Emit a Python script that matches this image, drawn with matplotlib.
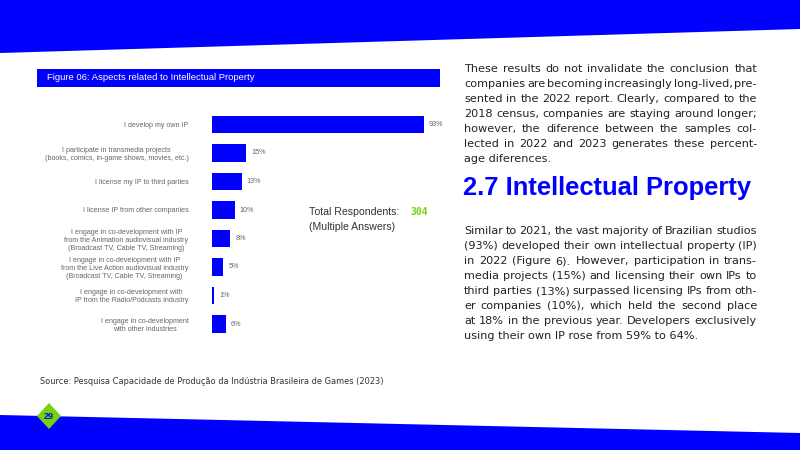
import matplotlib
matplotlib.use("Agg")
import matplotlib.pyplot as plt
from matplotlib.patches import Polygon, Rectangle

# data
categories = [
    "I develop my own IP",
    "I participate in transmedia projects\n(books, comics, in-game shows, movies, etc.)",
    "I license my IP to third parties",
    "I license IP from other companies",
    "I engage in co-development with IP\nfrom the Animation audiovisual industry\n(Broadcast TV, Cable TV, Streaming)",
    "I engage in co-development with IP\nfrom the Live Action audiovisual industry\n(Broadcast TV, Cable TV, Streaming)",
    "I engage in co-development with\nIP from the Radio/Podcasts industry",
    "I engage in co-development\nwith other industries",
]
values = [93, 15, 13, 10, 8, 5, 1, 6]
total_respondents = "304"

title = "Figure 06: Aspects related to Intellectual Property"
source = "Source: Pesquisa Capacidade de Produção da Indústria Brasileira de Games (2023)"
heading = "2.7 Intellectual Property"
page_number = "29"

para1 = [
    "These results do not invalidate the conclusion that",
    "companies are becoming increasingly long-lived, pre-",
    "sented in the 2022 report. Clearly, compared to the",
    "2018 census, companies are staying around longer;",
    "however, the diference between the samples col-",
    "lected in 2022 and 2023 generates these percent-",
    "age diferences.",
]
para2 = [
    "Similar to 2021, the vast majority of Brazilian studios",
    "(93%) developed their own intellectual property (IP)",
    "in 2022 (Figure 6). However, participation in trans-",
    "media projects (15%) and licensing their own IPs to",
    "third parties (13%) surpassed licensing IPs from oth-",
    "er companies (10%), which held the second place",
    "at 18% in the previous year. Developers exclusively",
    "using their own IP rose from 59% to 64%.",
]

BLUE = "#0000ff"
GREEN = "#76d20f"
GRAY = "#666666"
TEXT = "#222222"

plt.rcParams['font.family'] = ['Liberation Sans', 'DejaVu Sans']

fig = plt.figure(figsize=(8, 4.5), dpi=100)

# page layer, units are pixels
page = fig.add_axes([0, 0, 1, 1])
page.set_xlim(0, 800)
page.set_ylim(450, 0)
page.axis('off')

page.add_patch(Polygon([(0, 0), (800, 0), (800, 29), (0, 53)], color=BLUE, lw=0))
page.add_patch(Polygon([(0, 415), (800, 433), (800, 450), (0, 450)], color=BLUE, lw=0))
page.add_patch(Polygon([(49, 403), (61, 416), (49, 429), (37, 416)], color=GREEN, lw=0, zorder=3))
page.text(49, 416.5, page_number, color=BLUE, fontsize=6.5, fontweight='bold',
          ha='center', va='center', zorder=4)

page.add_patch(Rectangle((37, 69), 403, 18, color=BLUE, lw=0))
page.text(47, 78, title, color='white', fontsize=6.8, va='center')

page.text(40, 381, source, color='#333333', fontsize=5.95, va='center',
          family='DejaVu Sans')

page.text(309, 212, "Total Respondents:", color='#333333', fontsize=7.6, va='center')
page.text(410, 212, total_respondents, color=GREEN, fontsize=7, fontweight='bold',
          va='center', family='DejaVu Sans Mono')
page.text(309, 227, "(Multiple Answers)", color='#333333', fontsize=7.6, va='center')

page.text(463, 188, heading, color=BLUE, fontsize=18.4, fontweight='bold', va='center')

renderer = fig.canvas.get_renderer()


def justified(lines, x0, x1, y0, dy, **kw):
    for i, line in enumerate(lines):
        y = y0 + i * dy
        words = line.split()
        if i == len(lines) - 1:
            page.text(x0, y, line, va='center', **kw)
            continue
        txts = [page.text(0, y, w, va='center', **kw) for w in words]
        widths = [t.get_window_extent(renderer).width for t in txts]
        gap = (x1 - x0 - sum(widths)) / (len(words) - 1)
        x = x0
        for t, w in zip(txts, widths):
            t.set_x(x)
            x += w + gap


justified(para1, 464, 757, 69, 15, color=TEXT, fontsize=8.1, family='DejaVu Sans')
justified(para2, 464, 757, 231, 15, color=TEXT, fontsize=8.1, family='DejaVu Sans')

# bar chart
ax = fig.add_axes([212 / 800, 1 - 338.25 / 450, 228 / 800, 228 / 450])
ypos = list(range(len(values)))
ax.barh(ypos, values, height=0.62, color=BLUE)
ax.set_xlim(0, 100)
ax.set_ylim(len(values) - 0.5, -0.5)
for y, v in zip(ypos, values):
    ax.text(v + 2.2, y, f"{v}%", color=GRAY, fontsize=5.2, va='center')
ax.set_yticks(ypos)
ax.set_yticklabels(categories, fontsize=5.1, color=GRAY)
for lab in ax.get_yticklabels():
    lab.set_multialignment('center')
ax.tick_params(axis='y', length=0, pad=17)
ax.set_xticks([])
for s in ax.spines.values():
    s.set_visible(False)
ax.patch.set_alpha(0)

fig.savefig("out.png", dpi=100)
